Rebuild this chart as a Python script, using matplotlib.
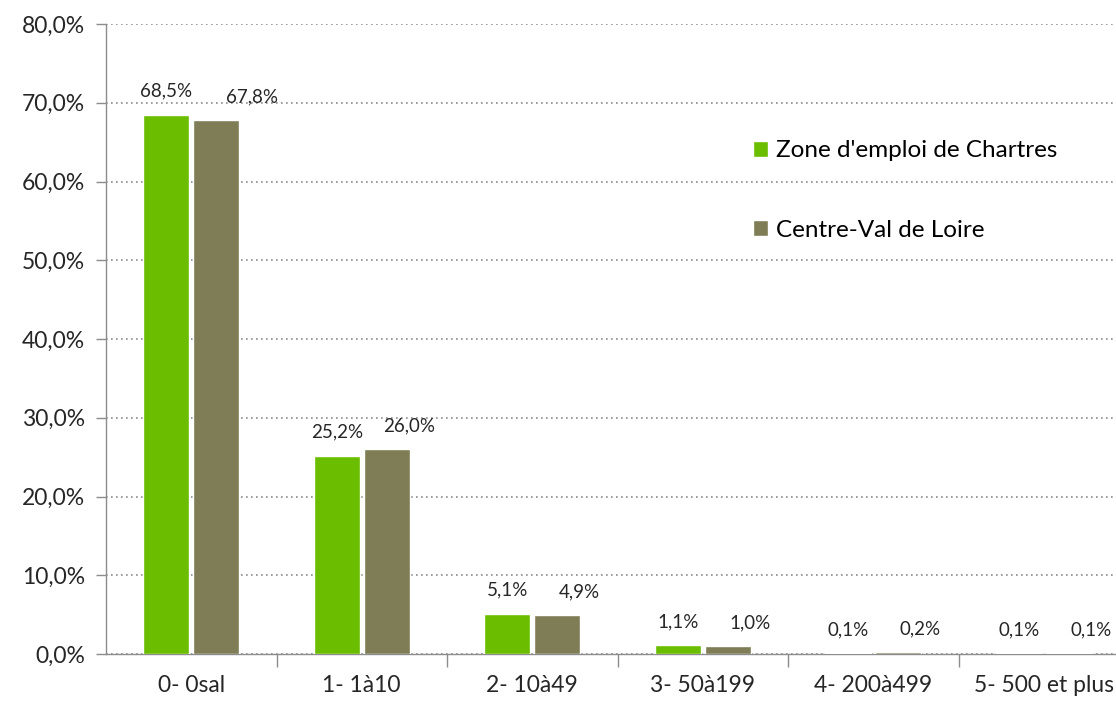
import numpy as np
import matplotlib.pyplot as plt
from matplotlib.ticker import FuncFormatter, FixedLocator

# data
categories = ["0- 0sal", "1- 1à10", "2- 10à49", "3- 50à199", "4- 200à499", "5- 500 et plus"]
chartres = [68.5, 25.2, 5.1, 1.1, 0.1, 0.1]
centre = [67.8, 26.0, 4.9, 1.0, 0.2, 0.1]
series_names = ["Zone d'emploi de Chartres", "Centre-Val de Loire"]

GREEN = "#6bbd00"
OLIVE = "#7f7d56"
GRID = "#8c8c8c"
TEXT = "#262626"

plt.rcParams['font.family'] = ['Lato', 'DejaVu Sans']

fig = plt.figure(figsize=(11.16, 7.01), dpi=100)
ax = fig.add_axes([106 / 1116, 1 - 654 / 701, 1 - 106 / 1116, (654 - 24) / 701])

x = np.arange(len(categories))
w = 0.27
off = 0.146
b1 = ax.bar(x - off, chartres, w, color=GREEN, edgecolor="white", linewidth=1, zorder=3)
b2 = ax.bar(x + off, centre, w, color=OLIVE, edgecolor="white", linewidth=1, zorder=3)

def fmt(v):
    return f"{v:.1f}%".replace(".", ",")

# labels: green centred over bar, olive nudged to the right (as in Excel output)
for xi, v in zip(x - off, chartres):
    ax.annotate(fmt(v), (xi, v), xytext=(0, 17), textcoords="offset points",
                ha="center", va="center", fontsize=13.5, color=TEXT, zorder=4)
for i, (xi, v) in enumerate(zip(x + off, centre)):
    dx = 26 if i == 0 else 16
    ax.annotate(fmt(v), (xi, v), xytext=(dx, 17), textcoords="offset points",
                ha="center", va="center", fontsize=13.5, color=TEXT, zorder=4)

ax.set_xlim(-0.5, -0.5 + 1010 / 170.5)
ax.set_ylim(0, 80)
ax.set_yticks(np.arange(0, 81, 10))
ax.yaxis.set_major_formatter(FuncFormatter(lambda v, p: fmt(v)))
ax.grid(axis="y", color=GRID, linestyle=(0, (1, 2)), linewidth=1.2, zorder=0)

ax.xaxis.set_major_locator(FixedLocator(np.arange(0.5, len(categories), 1)))
ax.xaxis.set_minor_locator(FixedLocator(x))
ax.set_xticklabels([], minor=False)
ax.set_xticklabels(categories, minor=True)
ax.tick_params(axis="x", which="major", length=9, color=GRID, width=1)
ax.tick_params(axis="x", which="minor", length=0, pad=15, labelsize=16.5, labelcolor=TEXT)
ax.tick_params(axis="y", length=7, color=GRID, width=1, pad=8, labelsize=16.5, labelcolor=TEXT)

for s in ["top", "right"]:
    ax.spines[s].set_visible(False)
for s in ["left", "bottom"]:
    ax.spines[s].set_color(GRID)
    ax.spines[s].set_linewidth(1)

leg = ax.legend([b1, b2], series_names, loc="upper left", bbox_to_anchor=(0.619, 0.85),
                frameon=False, fontsize=17.5, handlelength=0.6, handleheight=0.6,
                handletextpad=0.35, labelspacing=2.4)
for t in leg.get_texts():
    t.set_color("black")

fig.savefig("out.png", dpi=100)
